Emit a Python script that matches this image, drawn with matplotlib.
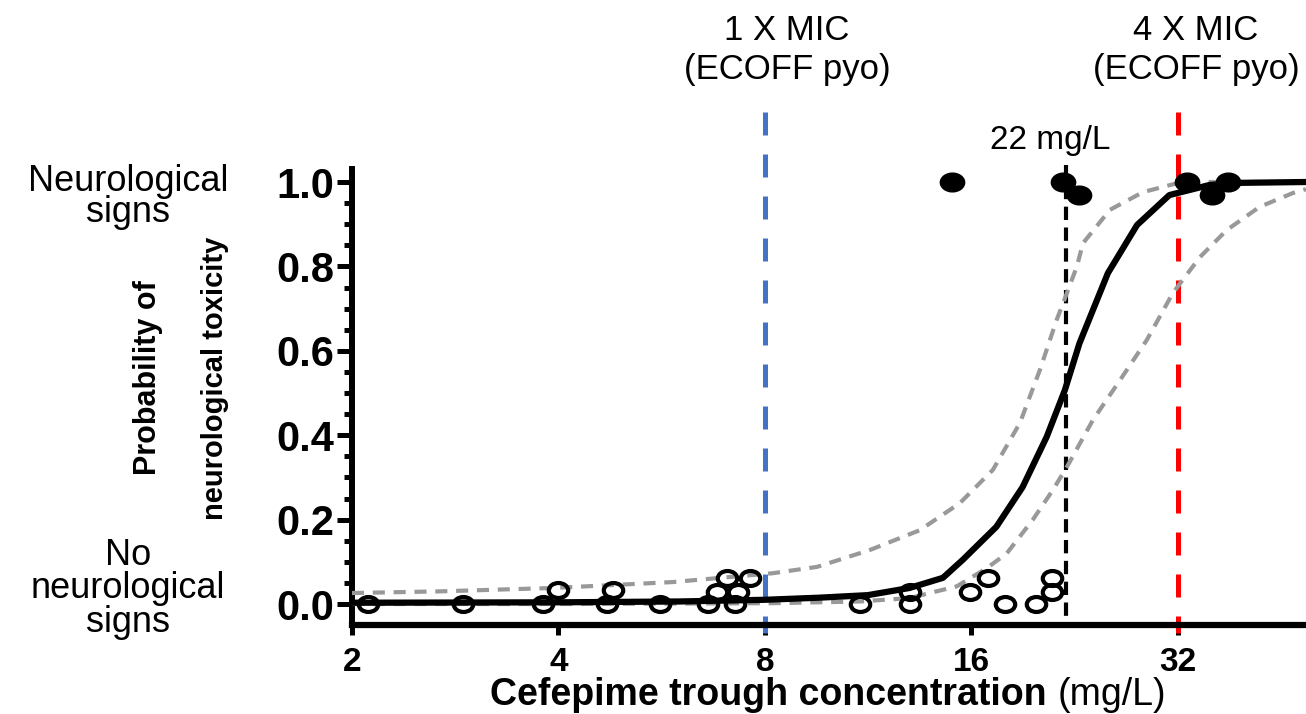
import matplotlib
matplotlib.use("Agg")
import matplotlib.pyplot as plt
from matplotlib.path import Path
from matplotlib.markers import MarkerStyle
from matplotlib.ticker import FixedLocator, FixedFormatter, NullLocator

plt.rcParams['font.family'] = ['Liberation Sans', 'DejaVu Sans']

# open circles: patients without neurological signs (y jittered near 0)
absent_conc = [2.11, 2.90, 3.80, 3.99, 4.71, 4.80, 5.63, 6.61, 6.81, 7.04, 7.23, 7.30, 7.61,
               11.0, 13.0, 13.0, 15.9, 16.9, 17.9, 19.9, 21.0, 21.0]
absent_y = [0, 0, 0, 0.033, 0, 0.033, 0, 0, 0.028, 0.062, 0, 0.028, 0.062,
            0, 0, 0.028, 0.028, 0.062, 0, 0, 0.028, 0.062]

# filled circles: patients with neurological signs
present_conc = [15.0, 21.75, 23.0, 33.0, 35.9, 37.9]
present_y = [1.0, 1.0, 0.97, 1.0, 0.97, 1.0]

# fitted curve
fit_conc = [2.0, 4.0, 6.0, 8.0, 9.6, 11.3, 13.0, 14.54, 15.55, 17.4, 19.0, 20.6, 21.9,
            23.0, 25.3, 27.9, 31.1, 35.6, 39.4, 49.2]
fit_p = [0.003, 0.004, 0.006, 0.010, 0.015, 0.021, 0.038, 0.062, 0.105, 0.183, 0.277,
         0.396, 0.507, 0.618, 0.784, 0.898, 0.969, 0.993, 0.998, 1.0]

# confidence band
upper_conc = [2.0, 2.69, 3.93, 5.87, 8.22, 9.53, 11.38, 13.46, 15.39, 17.2, 18.83, 20.14,
              21.3, 22.05, 22.8, 23.27, 25.47, 28.46, 31.9, 34.8, 49.2]
upper_p = [0.026, 0.030, 0.038, 0.052, 0.073, 0.088, 0.128, 0.175, 0.239, 0.318, 0.429,
           0.555, 0.673, 0.737, 0.800, 0.855, 0.934, 0.976, 0.997, 1.0, 1.0]
lower_conc = [2.0, 4.0, 6.0, 8.22, 9.53, 11.0, 13.0, 15.24, 16.85, 18.02, 19.67, 21.03,
              22.05, 24.06, 26.34, 28.84, 31.47, 34.46, 37.7, 42.1, 47.1, 49.2]
lower_p = [0.0, 0.0, 0.001, 0.002, 0.004, 0.006, 0.014, 0.042, 0.085, 0.12, 0.2, 0.27,
           0.325, 0.436, 0.53, 0.626, 0.737, 0.822, 0.886, 0.941, 0.974, 0.983]

x_ticks = [2, 4, 8, 16, 32]
x_tick_labels = ['2', '4', '8', '16', '32']
y_ticks = [0.0, 0.2, 0.4, 0.6, 0.8, 1.0]
y_tick_labels = ['0.0', '0.2', '0.4', '0.6', '0.8', '1.0']
y_minor = [0.05, 0.1, 0.15, 0.25, 0.3, 0.35, 0.45, 0.5, 0.55, 0.65, 0.7, 0.75, 0.85, 0.9, 0.95]

mic_1x = 8
mic_4x = 32
threshold = 22

fig = plt.figure(figsize=(13.06, 7.14), dpi=100)
ax = fig.add_axes([0.2695, 0.1245, 0.7305, 0.7388])
ax.set_xscale('log', base=2)
ax.set_xlim(2, 49.2)
ax.set_ylim(-0.05, 1.2)

# reference lines
ax.plot([mic_1x, mic_1x], [1.166, -0.069], color='#4472C4', lw=3.6, dashes=(4.6, 3.8),
        clip_on=False, zorder=2)
ax.plot([mic_4x, mic_4x], [1.166, -0.069], color='#FF0000', lw=3.6, dashes=(4.6, 3.8),
        clip_on=False, zorder=2)
ax.plot([threshold, threshold], [1.04, -0.05], color='black', lw=3, dashes=(3.2, 1.8),
        clip_on=False, zorder=2)

ax.plot(upper_conc, upper_p, color='#999999', lw=3, dashes=(2.9, 2.1), zorder=3)
ax.plot(lower_conc, lower_p, color='#999999', lw=3, dashes=(2.9, 2.1), zorder=3)
ax.plot(fit_conc, fit_p, color='black', lw=4.5, zorder=4)

circ = Path.unit_circle()
ellipse = MarkerStyle(Path(circ.vertices * [1.3, 1.0], circ.codes))
ax.plot(absent_conc, absent_y, ls='none', marker=ellipse, ms=14, mfc='none',
        mec='black', mew=3, zorder=5, clip_on=False)
ax.plot(present_conc, present_y, ls='none', marker=ellipse, ms=17.5, mfc='black',
        mec='black', zorder=5, clip_on=False)

# axes styling
for side in ['top', 'right']:
    ax.spines[side].set_visible(False)
ax.spines['left'].set_linewidth(4.3)
ax.spines['bottom'].set_linewidth(4.5)
ax.spines['left'].set_bounds(-0.05, 1.03)

ax.xaxis.set_major_locator(FixedLocator(x_ticks))
ax.xaxis.set_major_formatter(FixedFormatter(x_tick_labels))
ax.xaxis.set_minor_locator(NullLocator())
ax.yaxis.set_major_locator(FixedLocator(y_ticks))
ax.yaxis.set_major_formatter(FixedFormatter(y_tick_labels))
ax.yaxis.set_minor_locator(FixedLocator(y_minor))

ax.tick_params(axis='x', which='major', length=7.5, width=3.6, labelsize=24, pad=8)
ax.tick_params(axis='y', which='major', length=11, width=3.6, labelsize=30, pad=2)
ax.tick_params(axis='y', which='minor', length=6, width=3.6)
for lab in ax.get_xticklabels() + ax.get_yticklabels():
    lab.set_fontweight('bold')

# text
W, H = 1306.0, 714.0
fig.text(787 / W, 1 - 50 / H, '1 X MIC\n(ECOFF pyo)', ha='center', va='center',
         fontsize=25, linespacing=1.2)
fig.text(1196 / W, 1 - 50 / H, '4 X MIC\n(ECOFF pyo)', ha='center', va='center',
         fontsize=25, linespacing=1.2)
fig.text(1050 / W, 1 - 140 / H, '22 mg/L', ha='center', va='center', fontsize=24)

fig.text(128 / W, 1 - 197 / H, 'Neurological\nsigns', ha='center', va='center',
         fontsize=26, linespacing=0.84)
fig.text(128 / W, 1 - 589 / H, 'No\nneurological\nsigns', ha='center', va='center',
         fontsize=26, linespacing=0.95)

fig.text(148 / W, 1 - 378 / H, 'Probability of', rotation=90, ha='center', va='center',
         fontsize=22, fontweight='bold')
fig.text(215 / W, 1 - 378 / H, 'neurological toxicity', rotation=90, ha='center',
         va='center', fontsize=21, fontweight='bold')

xl = fig.text(472 / W, 1 - 705 / H, 'Cefepime trough concentration ', ha='left',
              va='baseline', fontsize=27, fontweight='bold')
xu = ax.annotate('(mg/L)', xy=(1, 0), xycoords=xl, ha='left', va='bottom', fontsize=27,
                 annotation_clip=False)

# center the two-part x label where the original sits
fig.canvas.draw()
r = fig.canvas.get_renderer()
b1 = xl.get_window_extent(r)
b2 = xu.get_window_extent(r)
mid = (b1.x0 + b2.x1) / 2
xl.set_x((472 + (828 - mid)) / W)

fig.savefig('out.png', dpi=100)
